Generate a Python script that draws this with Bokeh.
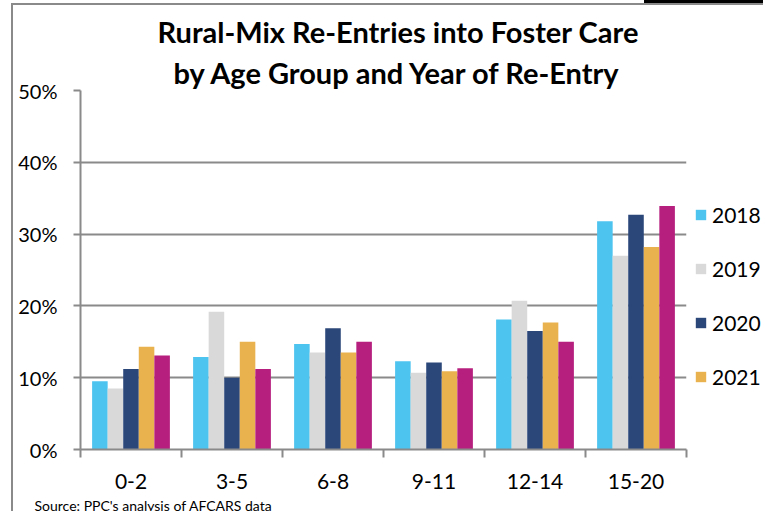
from bokeh.plotting import figure
from bokeh.models import (Legend, LegendItem, FixedTicker, Range1d, Title)
from bokeh.embed import file_html
from bokeh.resources import INLINE

ages = ["0-2", "3-5", "6-8", "9-11", "12-14", "15-20"]
years = ["2018", "2019", "2020", "2021", "2022"]
y2018 = [9.5, 12.9, 14.7, 12.3, 18.1, 31.8]
y2019 = [8.5, 19.2, 13.5, 10.7, 20.7, 27.0]
y2020 = [11.2, 10.0, 16.9, 12.1, 16.5, 32.7]
y2021 = [14.3, 15.0, 13.5, 10.9, 17.7, 28.2]
y2022 = [13.1, 11.2, 15.0, 11.3, 15.0, 33.9]
series = [y2018, y2019, y2020, y2021, y2022]
colors = ["#4DC3EF", "#D9D9D9", "#2B4679", "#EAB14F", "#B61F7E"]
yticks = [0, 10, 20, 30, 40, 50]
ytick_labels = ["0%", "10%", "20%", "30%", "40%", "50%"]
title_lines = ["Rural-Mix Re-Entries into Foster Care", "by Age Group and Year of Re-Entry"]
source_text = "Source: PPC's analysis of AFCARS data"

FONT = "Lato"
GRID = "#8A8A8A"

p = figure(frame_width=606, frame_height=359,
           min_border_left=67, min_border_right=77, min_border_top=85, min_border_bottom=61,
           x_range=Range1d(0, len(ages)), y_range=Range1d(0, 50),
           output_backend="svg", toolbar_location=None, tools="")
p.outline_line_color = None
p.background_fill_color = "white"
p.border_fill_color = "white"
p.styles = {"border-left": "2px solid #8A8A8A", "border-top": "2px solid #8A8A8A",
            "margin-left": "11px", "margin-top": "3px",
            "box-shadow": "632px -4px 0 -1px #000000"}

bw = 0.154
renderers = []
for k, (vals, col) in enumerate(zip(series, colors)):
    xs = [i + 0.5 + (k - 2) * bw for i in range(len(ages))]
    r = p.vbar(x=xs, top=vals, bottom=0, width=bw, fill_color=col, line_color=None)
    renderers.append(r)

# axes
p.xgrid.grid_line_color = None
p.ygrid.grid_line_color = GRID
p.ygrid.grid_line_width = 2
p.ygrid.ticker = FixedTicker(ticks=yticks)

p.yaxis.ticker = FixedTicker(ticks=yticks)
p.yaxis.major_label_overrides = {t: l for t, l in zip(yticks, ytick_labels)}
p.yaxis.axis_line_color = GRID
p.yaxis.axis_line_width = 2
p.yaxis.major_tick_line_color = GRID
p.yaxis.major_tick_line_width = 2
p.yaxis.major_tick_out = 7
p.yaxis.major_tick_in = 0
p.yaxis.minor_tick_line_color = None
p.yaxis.major_label_standoff = 16
p.yaxis.major_label_text_font = FONT
p.yaxis.major_label_text_font_size = "20px"
p.yaxis.major_label_text_color = "#000000"

centers = [i + 0.5 for i in range(len(ages))]
p.xaxis.ticker = FixedTicker(ticks=centers, minor_ticks=list(range(len(ages) + 1)))
p.xaxis.major_label_overrides = {c: a for c, a in zip(centers, ages)}
p.xaxis.axis_line_color = GRID
p.xaxis.axis_line_width = 2
p.xaxis.major_tick_line_color = None
p.xaxis.major_tick_out = 0
p.xaxis.major_tick_in = 0
p.xaxis.minor_tick_line_color = GRID
p.xaxis.minor_tick_line_width = 2
p.xaxis.minor_tick_out = 8
p.xaxis.minor_tick_in = 0
p.xaxis.major_label_standoff = 16
p.xaxis.major_label_text_font = FONT
p.xaxis.major_label_text_font_size = "21px"
p.xaxis.major_label_text_color = "#000000"

# title: figure title is the outer line; the added Title sits next to the frame
p.title.text = title_lines[0]
p.title.align = "left"
p.title.offset = 77
p.title.standoff = 7
p.title.text_font = FONT
p.title.text_font_style = "bold"
p.title.text_font_size = "29px"
p.title.text_color = "#000000"
p.add_layout(Title(text=title_lines[1], align="left", offset=93, standoff=1,
                   text_font=FONT, text_font_style="bold", text_font_size="29px",
                   text_color="#000000"), "above")

# source note
p.add_layout(Title(text=source_text, align="left", offset=-46, standoff=6,
                   text_font=FONT, text_font_style="normal", text_font_size="14px",
                   text_color="#000000"), "below")

# legend (only four entries visible in the reference)
items = [LegendItem(label=years[k], renderers=[renderers[k]]) for k in range(4)]
legend = Legend(items=items, location=(8, 60), orientation="vertical",
                glyph_width=13, glyph_height=13, label_height=13, spacing=29,
                label_standoff=5, padding=0, margin=0,
                border_line_color=None, background_fill_alpha=0,
                label_text_font=FONT, label_text_font_size="21px", label_text_color="#000000")
p.add_layout(legend, "right")

open("out.html", "w").write(file_html(p, INLINE))
